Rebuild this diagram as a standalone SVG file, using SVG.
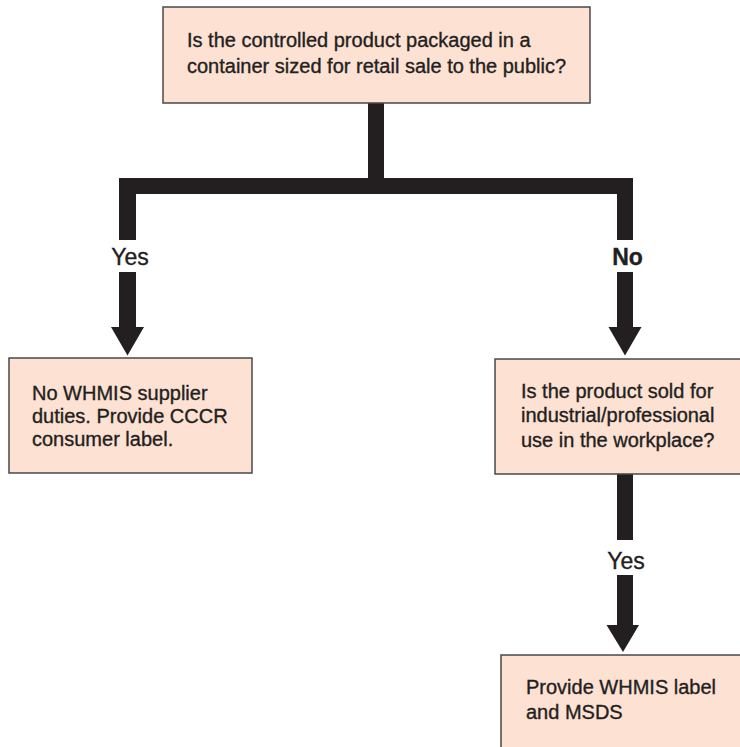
<svg xmlns="http://www.w3.org/2000/svg" width="740" height="747" viewBox="0 0 740 747">
<style>
.box{fill:#fde1d3;stroke:#4a4748;stroke-width:1.5}
.t{font-family:"Liberation Sans",Arial,sans-serif;font-size:20px;fill:#231f20;stroke:#231f20;stroke-width:0.35}
.lbl{font-family:"Liberation Sans",Arial,sans-serif;font-size:23px;fill:#231f20;stroke:#231f20;stroke-width:0.35;text-anchor:middle}
.c{fill:#231f20}
</style>
<rect width="740" height="747" fill="#ffffff"/>
<g id="connectors" class="c">
<rect x="368" y="103" width="16" height="91"/>
<rect x="119" y="178" width="514" height="16"/>
<rect x="119" y="178" width="17" height="62"/>
<rect x="617" y="178" width="16" height="62"/>
<rect x="119" y="272" width="17" height="56"/>
<polygon points="111,327 144,327 127.5,355.5"/>
<rect x="617" y="272" width="16" height="56"/>
<polygon points="608.5,327 641.5,327 625,355.5"/>
<rect x="617" y="474" width="16" height="66"/>
<rect x="617" y="575" width="16" height="51"/>
<polygon points="606.5,625 639,625 623,652"/>
<text class="lbl" x="130" y="265">Yes</text>
<text class="lbl" x="627.5" y="265" font-weight="bold" font-size="24">No</text>
<text class="lbl" x="626" y="569">Yes</text>
</g>
<g id="q1">
<rect class="box" x="163" y="7" width="427" height="96"/>
<text class="t" x="187" y="47">Is the controlled product packaged in a</text>
<text class="t" x="187" y="73">container sized for retail sale to the public?</text>
</g>
<g id="consumer">
<rect class="box" x="9" y="358" width="243" height="115"/>
<text class="t" x="32" y="400">No WHMIS supplier</text>
<text class="t" x="32" y="423">duties. Provide CCCR</text>
<text class="t" x="32" y="446">consumer label.</text>
</g>
<g id="q2">
<rect class="box" x="495" y="359" width="250" height="115"/>
<text class="t" x="521" y="398">Is the product sold for</text>
<text class="t" x="521" y="422">industrial/professional</text>
<text class="t" x="521" y="447">use in the workplace?</text>
</g>
<g id="whmis">
<rect class="box" x="501" y="655" width="250" height="100"/>
<text class="t" x="526" y="694">Provide WHMIS label</text>
<text class="t" x="526" y="719">and MSDS</text>
</g>
</svg>
